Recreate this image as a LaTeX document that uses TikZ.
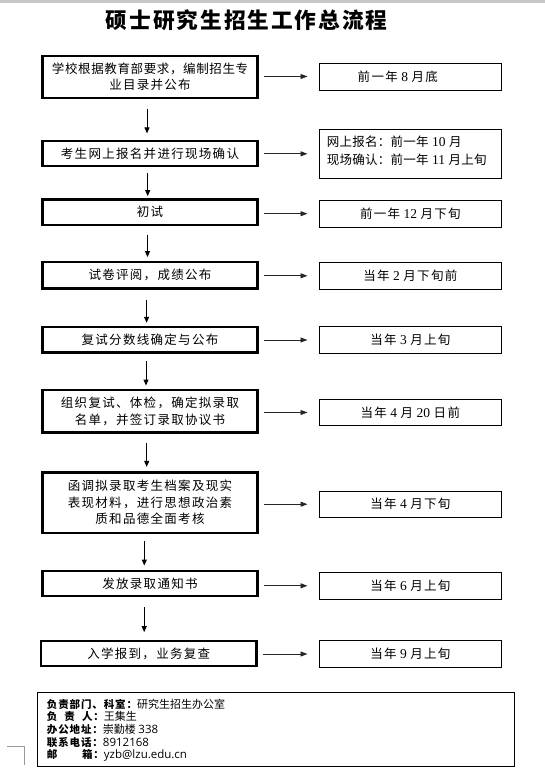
\documentclass[tikz,border=0pt]{standalone}
\usepackage{fontspec}
\setmainfont{Noto Sans CJK SC}
\newfontfamily\bodyf{Noto Sans CJK SC}[LetterSpace=10.4]
\newfontfamily\titlef{Noto Sans CJK SC}[LetterSpace=9]
\newfontfamily\labf{Noto Sans CJK SC}[LetterSpace=8.5]
\newfontfamily\valf{Noto Sans CJK SC}
\newfontfamily\tnr{Liberation Serif}
\newfontfamily\osans{Open Sans}
\usetikzlibrary{arrows.meta}
\newcommand\myd[1]{\hspace{3.5pt}{\fontsize{13.5pt}{16pt}\tnr #1}\hspace{3.5pt}}
\newcommand\latv[1]{{\fontsize{11.5pt}{13pt}\osans #1}}
\tikzset{
  bodytext/.style={font={\fontsize{12.5pt}{16.5pt}\bodyf}},
  lbox/.style={draw, line width=2.4pt, minimum width=215pt, inner sep=0pt, align=center, bodytext},
  rbox/.style={draw, line width=1pt, minimum width=182.7pt, inner sep=0pt, align=center, bodytext},
  txt/.style={inner sep=0pt, bodytext},
  varr/.style={line width=1pt, -{Triangle[length=6pt,width=5pt]}},
  harr/.style={line width=0.9pt, draw=black!85, -{Triangle[length=7pt,width=5pt]}, shorten <=5.5pt, shorten >=11pt},
  infobox/.style={draw, line width=1.2pt, inner sep=0pt},
  infoline/.style={inner sep=0pt, anchor=west, font={\fontsize{11pt}{13pt}\valf}},
  marks/.style={draw=black!40, line width=0.8pt}
}
\newcommand\labt[1]{{\fontsize{10.5pt}{13pt}\labf\bfseries #1}}
\begin{document}
\begin{tikzpicture}[x=1pt,y=-1pt]
\useasboundingbox (0,0) rectangle (545,782);
\fill[black!22] (0,0) rectangle (545,3.3);
% title
\node[inner sep=0pt, font={\fontsize{21.7pt}{24pt}\titlef\bfseries}] (title) at (246.7,20) {硕士研究生招生工作总流程};
% left boxes
\node[lbox, minimum height=41.7pt] (b1) at (150,76.85) {{\addfontfeature{LetterSpace=5}学校根据教育部要求，编制招生专}\\业目录并公布};
\node[lbox, minimum height=25pt] (b2) at (150,153.6) {考生网上报名并进行现场确认};
\node[lbox, minimum height=25.7pt] (b3) at (150,212.2) {初试};
\node[lbox, minimum height=26.6pt] (b4) at (150,275) {试卷评阅，成绩公布};
\node[lbox, minimum height=25.6pt] (b5) at (150,339.5) {复试分数线确定与公布};
\node[lbox, minimum height=42.3pt] (b6) at (150,411.2) {组织复试、体检，确定拟录取\\名单，并签订录取协议书};
\node[lbox, minimum height=60.7pt] (b7) at (150,502.7) {函调拟录取考生档案及现实\\表现材料，进行思想政治素\\质和品德全面考核};
\node[lbox, minimum height=25pt] (b8) at (150,583.5) {发放录取通知书};
\node[lbox, minimum height=25.3pt, minimum width=215.5pt] (b9) at (148.75,653.4) {入学报到，业务复查};
% right boxes
\node[rbox, minimum height=27pt] (r1) at (410.35,76.5) {};
\node[txt] (t1) at (397.8,76.5) {前一年\myd{8}月底};
\node[rbox, minimum height=49pt] (r2) at (410.35,153.8) {};
\node[txt, anchor=west, align=left, font={\fontsize{12.5pt}{17.6pt}\bodyf\addfontfeature{LetterSpace=2}}] (t2) at (326.6,150.5) {网上报名：前一年\myd{10}月\\现场确认：前一年\myd{11}月上旬};
\node[rbox, minimum height=27.3pt] (r3) at (410.35,213.7) {前一年\myd{12}月下旬};
\node[rbox, minimum height=27pt] (r4) at (410.35,275.8) {当年\myd{2}月下旬前};
\node[rbox, minimum height=26.6pt] (r5) at (410.35,340) {当年\myd{3}月上旬};
\node[rbox, minimum height=26.4pt] (r6) at (410.35,412.5) {当年\myd{4}月\myd{20}日前};
\node[rbox, minimum height=26.3pt] (r7) at (410.35,504.2) {当年\myd{4}月下旬};
\node[rbox, minimum height=27pt] (r8) at (410.35,585.8) {当年\myd{6}月上旬};
\node[rbox, minimum height=26.6pt] (r9) at (410.35,654) {当年\myd{9}月上旬};
% vertical arrow columns
\coordinate (x1) at (147,0);
\coordinate (x2) at (147.7,0);
\coordinate (x3) at (147.5,0);
\coordinate (x4) at (146.6,0);
\coordinate (x5) at (146,0);
\coordinate (x6) at (146.7,0);
\coordinate (x7) at (144.3,0);
\coordinate (x8) at (144.2,0);
\draw[varr, shorten <=10pt, shorten >=6.5pt] (b1.south -| x1) -- (b2.north -| x1);
\draw[varr, shorten <=6pt, shorten >=2pt] (b2.south -| x2) -- (b3.north -| x2);
\draw[varr, shorten <=8.3pt, shorten >=3.4pt] (b3.south -| x3) -- (b4.north -| x3);
\draw[varr, shorten <=10pt, shorten >=2.7pt] (b4.south -| x4) -- (b5.north -| x4);
\draw[varr, shorten <=7.7pt, shorten >=3.3pt] (b5.south -| x5) -- (b6.north -| x5);
\draw[varr, shorten <=9.4pt, shorten >=4.3pt] (b6.south -| x6) -- (b7.north -| x6);
\draw[varr, shorten <=7pt, shorten >=4.3pt] (b7.south -| x7) -- (b8.north -| x7);
\draw[varr, shorten <=10pt, shorten >=7.4pt] (b8.south -| x8) -- (b9.north -| x8);
% horizontal arrows
\foreach \i in {1,...,9}{
  \draw[harr] (b\i.east |- r\i.west) -- (r\i.west);
}
% info box
\node[infobox, minimum width=477pt, minimum height=74pt] (info) at (275.8,729.5) {};
\node[infoline] (i1) at (46.7,704) {\labt{负责部门、科室：}研究生招生办公室};
\node[infoline] (i2) at (46.7,716.8) {\labt{\makebox[57pt][s]{负\hfill 责\hfill 人：}}王集生};
\node[infoline] (i3) at (46.7,729.5) {\labt{办公地址：}崇勤楼 \latv{338}};
\node[infoline] (i4) at (46.7,742.3) {\labt{联系电话：}\latv{8912168}};
\node[infoline] (i5) at (46.7,755) {\labt{\makebox[57pt][s]{邮\hfill 箱：}}\latv{yzb@lzu.edu.cn}};
% page corner mark
\draw[marks] (7,746.7) -- (24.4,746.7) -- (24.4,765);
\end{tikzpicture}
\end{document}
